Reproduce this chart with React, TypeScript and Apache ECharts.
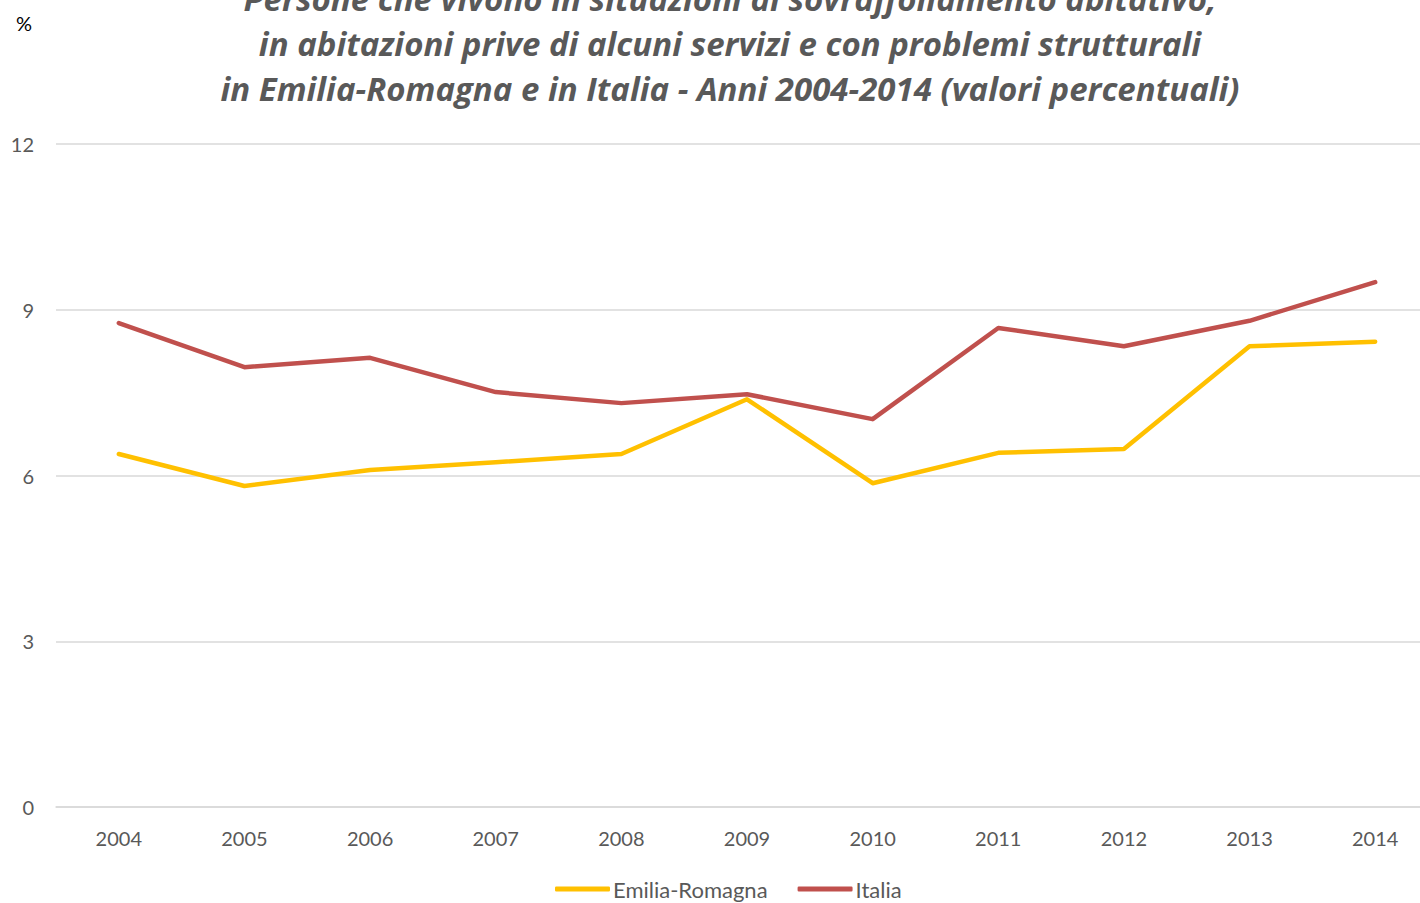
import React, { useEffect, useRef } from "react";
import * as echarts from "echarts";

const years = ["2004", "2005", "2006", "2007", "2008", "2009", "2010", "2011", "2012", "2013", "2014"];
const emiliaRomagna = [6.39, 5.81, 6.1, 6.24, 6.39, 7.38, 5.86, 6.41, 6.48, 8.34, 8.42];
const italia = [8.76, 7.96, 8.13, 7.51, 7.31, 7.47, 7.02, 8.67, 8.34, 8.8, 9.5];
const titleLines = [
  "Persone che vivono in situazioni di sovraffollamento abitativo,",
  "in abitazioni prive di alcuni servizi e con problemi strutturali",
  "in Emilia-Romagna e in Italia - Anni 2004-2014 (valori percentuali)",
];

export default function App() {
  const ref = useRef<HTMLDivElement>(null);
  useEffect(() => {
    if (!ref.current) return;
    const chart = echarts.init(ref.current, null, { renderer: "svg" });
    const font = "Lato, 'Open Sans', sans-serif";
    chart.setOption({
      animation: false,
      backgroundColor: "#ffffff",
      textStyle: { fontFamily: font },
      graphic: [
        {
          type: "text",
          x: 730,
          y: -24,
          style: {
            text: titleLines.join("\n"),
            textAlign: "center",
            textVerticalAlign: "top",
            font: "italic bold 33px 'Open Sans', Lato, sans-serif",
            lineHeight: 45,
            fill: "#595959",
          },
        },
        {
          type: "text",
          x: 16,
          y: 13,
          style: {
            text: "%",
            font: "20px Lato, 'Open Sans', sans-serif",
            fill: "#000000",
          },
        },
      ],
      legend: {
        left: 555,
        top: 878,
        padding: 0,
        itemWidth: 55,
        itemHeight: 5,
        itemGap: 30,
        icon: "roundRect",
        textStyle: { fontSize: 22, color: "#595959", fontFamily: font, padding: [0, 0, 0, -2] },
        data: ["Emilia-Romagna", "Italia"],
      },
      grid: { left: 56, right: 0, top: 144, bottom: 96, containLabel: false },
      xAxis: {
        type: "category",
        data: years,
        boundaryGap: true,
        axisLine: { show: true, lineStyle: { color: "#D9D9D9", width: 1.5 } },
        axisTick: { show: false },
        axisLabel: { color: "#595959", fontSize: 20, margin: 21, fontFamily: font },
      },
      yAxis: {
        type: "value",
        min: 0,
        max: 12,
        interval: 3,
        axisLine: { show: false },
        axisTick: { show: false },
        axisLabel: { color: "#595959", fontSize: 20, margin: 22, fontFamily: font },
        splitLine: { lineStyle: { color: "#D9D9D9", width: 1.5 } },
      },
      series: [
        {
          name: "Emilia-Romagna",
          type: "line",
          data: emiliaRomagna,
          symbol: "none",
          color: "#FFC000",
          lineStyle: { width: 4.5, color: "#FFC000", cap: "round", join: "round" },
        },
        {
          name: "Italia",
          type: "line",
          data: italia,
          symbol: "none",
          color: "#C0504D",
          lineStyle: { width: 4.5, color: "#C0504D", cap: "round", join: "round" },
        },
      ],
    });
    return () => chart.dispose();
  }, []);
  return (
    <div style={{ position: "absolute", left: 0, top: 0, width: 1420, height: 903, overflow: "hidden" }}>
      <div ref={ref} style={{ width: 1438, height: 903 }} />
    </div>
  );
}
